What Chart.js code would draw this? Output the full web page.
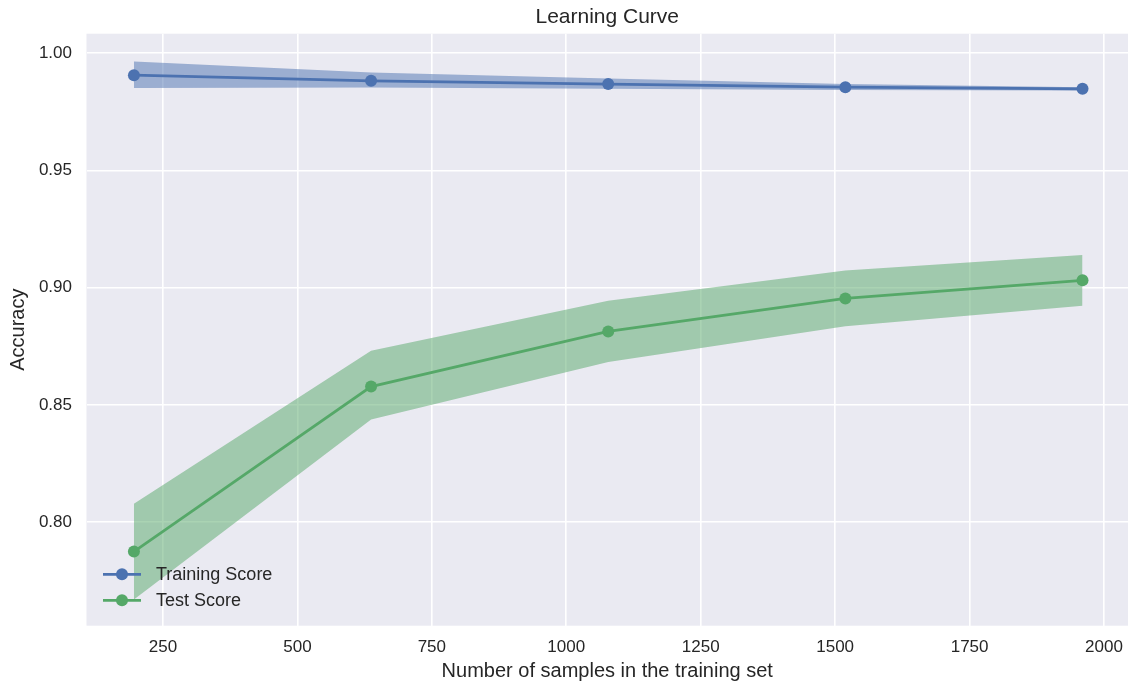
<!DOCTYPE html>
<html>
<head>
<meta charset="utf-8">
<script src="https://cdn.jsdelivr.net/npm/chart.js@4.4.1/dist/chart.umd.min.js"></script>
<style>
html,body{margin:0;padding:0;background:#ffffff;overflow:hidden;}
#wrap{width:1128px;height:684px;position:relative;}
</style>
</head>
<body>
<div id="wrap"><canvas id="c" width="1128" height="684"></canvas></div>
<script>
// ---- data ----
const trainSizes = [196, 637, 1078, 1519, 1960];
const trainMean  = [0.9906, 0.9882, 0.9868, 0.9855, 0.9848];
const trainUpper = [0.9964, 0.9917, 0.9892, 0.9868, 0.9855];
const trainLower = [0.9851, 0.9853, 0.9848, 0.9843, 0.9841];
const testMean   = [0.7874, 0.8578, 0.8813, 0.8954, 0.9031];
const testUpper  = [0.8078, 0.8731, 0.8944, 0.9073, 0.9139];
const testLower  = [0.7670, 0.8437, 0.8683, 0.8835, 0.8923];
const seriesNames = ['Training Score', 'Test Score'];
const xTicks = [250, 500, 750, 1000, 1250, 1500, 1750, 2000];
const yTicks = [0.80, 0.85, 0.90, 0.95, 1.00];
const chartTitle = 'Learning Curve';
const xTitle = 'Number of samples in the training set';
const yTitle = 'Accuracy';

// ---- styling ----
const FONT = '"Liberation Sans", Arial, Helvetica, sans-serif';
const TEXT = '#262626';
const BLUE = '#4C72B0', GREEN = '#55A868';
const BLUE_BAND = 'rgba(76,114,176,0.5)', GREEN_BAND = 'rgba(85,168,104,0.5)';

const pts = (xs, ys) => xs.map((x, i) => ({x: x, y: ys[i]}));

function lineDs(label, ys, color) {
  return {
    label: label, data: pts(trainSizes, ys),
    borderColor: color, backgroundColor: color,
    borderWidth: 2.8, pointRadius: 6, pointHoverRadius: 6,
    pointBorderWidth: 0, pointBackgroundColor: color,
    fill: false, tension: 0, order: 0
  };
}
function bandDs(ys, color, fill) {
  return {
    label: '_band', data: pts(trainSizes, ys),
    borderColor: 'rgba(0,0,0,0)', borderWidth: 0, backgroundColor: color,
    pointRadius: 0, pointHoverRadius: 0, fill: fill, tension: 0, order: 5
  };
}

const bgPlugin = {
  id: 'bg',
  beforeDraw(chart) {
    const {ctx, chartArea: a} = chart;
    ctx.save();
    ctx.fillStyle = '#ffffff';
    ctx.fillRect(0, 0, chart.width, chart.height);
    ctx.fillStyle = '#EAEAF2';
    ctx.fillRect(a.left, a.top, a.right - a.left, a.bottom - a.top);
    ctx.restore();
  }
};

const legendPlugin = {
  id: 'innerLegend',
  afterDraw(chart) {
    const ctx = chart.ctx;
    const items = [0, 1];
    ctx.save();
    items.forEach((di, k) => {
      const ds = chart.data.datasets[di];
      const y = 574.3 + k * 26;
      ctx.strokeStyle = ds.borderColor;
      ctx.lineWidth = 2.8;
      ctx.beginPath();
      ctx.moveTo(103, y);
      ctx.lineTo(141, y);
      ctx.stroke();
      ctx.fillStyle = ds.borderColor;
      ctx.beginPath();
      ctx.arc(122, y, 6, 0, Math.PI * 2);
      ctx.fill();
      ctx.fillStyle = TEXT;
      ctx.font = '18px ' + FONT;
      ctx.textAlign = 'left';
      ctx.textBaseline = 'middle';
      ctx.fillText(ds.label, 156, y + 1);
    });
    ctx.restore();
  }
};

new Chart(document.getElementById('c'), {
  type: 'line',
  data: {
    datasets: [
      lineDs(seriesNames[0], trainMean, BLUE),
      lineDs(seriesNames[1], testMean, GREEN),
      bandDs(trainUpper, BLUE_BAND, '+1'),
      bandDs(trainLower, BLUE_BAND, false),
      bandDs(testUpper, GREEN_BAND, '+1'),
      bandDs(testLower, GREEN_BAND, false)
    ]
  },
  options: {
    responsive: false,
    animation: false,
    devicePixelRatio: 1,
    layout: {padding: 0, autoPadding: false},
    events: [],
    plugins: {
      legend: {display: false},
      tooltip: {enabled: false},
      title: {
        display: true, text: chartTitle, fullSize: false,
        color: TEXT, font: {family: FONT, size: 21, weight: 'normal'},
        padding: {top: 5, bottom: 3.5}
      },
      filler: {propagate: false}
    },
    scales: {
      x: {
        type: 'linear', min: 107.8, max: 2044.6,
        border: {display: false},
        grid: {color: '#ffffff', lineWidth: 1.6, drawTicks: false},
        ticks: {color: TEXT, font: {family: FONT, size: 17}, padding: 11.6,
                maxRotation: 0, callback: v => String(v)},
        afterBuildTicks: s => { s.ticks = xTicks.map(v => ({value: v})); },
        afterFit: s => { s.height = 58.3; s.paddingLeft = 0; s.paddingRight = 0; },
        title: {display: true, text: xTitle, color: TEXT,
                font: {family: FONT, size: 20}, padding: {top: 0, bottom: 1}}
      },
      y: {
        type: 'linear', min: 0.7558, max: 1.0083,
        border: {display: false},
        grid: {color: '#ffffff', lineWidth: 1.6, drawTicks: false},
        ticks: {color: TEXT, font: {family: FONT, size: 17}, padding: 14.5,
                callback: v => Number(v).toFixed(2)},
        afterBuildTicks: s => { s.ticks = yTicks.map(v => ({value: v})); },
        afterFit: s => { s.width = 86.5; s.paddingTop = 0; s.paddingBottom = 0; },
        title: {display: true, text: yTitle, color: TEXT,
                font: {family: FONT, size: 20}, padding: {top: 6, bottom: 0}}
      }
    }
  },
  plugins: [bgPlugin, legendPlugin]
});
</script>
</body>
</html>
